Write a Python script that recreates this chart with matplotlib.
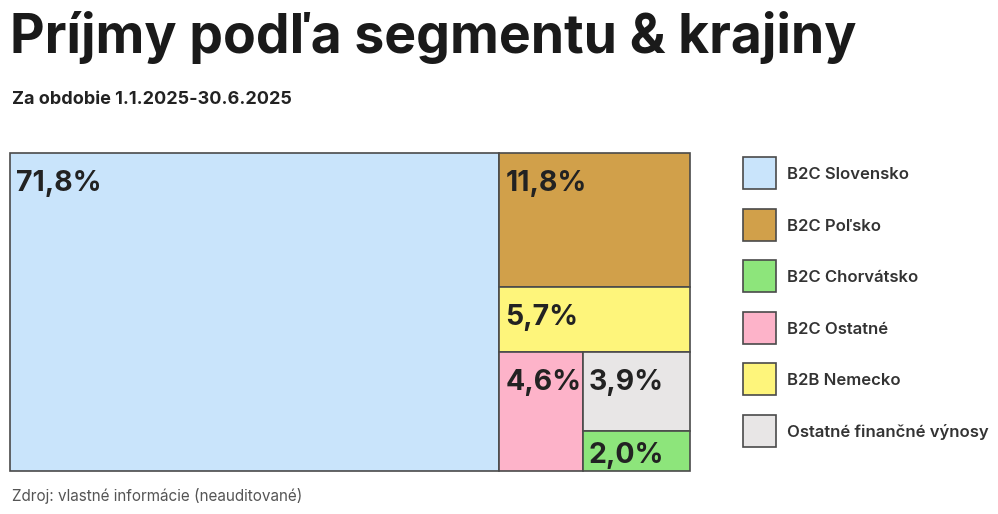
import matplotlib.pyplot as plt
from matplotlib.patches import Rectangle

plt.rcParams['font.family'] = ['Inter', 'DejaVu Sans']

# dáta
segmenty = ['B2C Slovensko', 'B2C Poľsko', 'B2C Chorvátsko', 'B2C Ostatné',
            'B2B Nemecko', 'Ostatné finančné výnosy']
podiel = [71.8, 11.8, 2.0, 4.6, 5.7, 3.9]
farby = ['#c9e4fb', '#d1a04a', '#8de57b', '#fdb3c9', '#fef57b', '#e8e6e6']
popisky = ['71,8%', '11,8%', '2,0%', '4,6%', '5,7%', '3,9%']

# poradie delenia treemapy: (smer, index, zvysok)
# 'v' = odrez zlava, 'h' = odrez zhora
strom = ('v', 0, ('h', 1, ('h', 4, ('v', 3, ('h', 5, ('leaf', 2))))))


def suma(uzol):
    if uzol[0] == 'leaf':
        return podiel[uzol[1]]
    return podiel[uzol[1]] + suma(uzol[2])


def rozloz(uzol, x, y, w, h, out):
    if uzol[0] == 'leaf':
        out[uzol[1]] = (x, y, w, h)
        return
    smer, i, zvysok = uzol
    f = podiel[i] / suma(uzol)
    if smer == 'v':
        out[i] = (x, y, w * f, h)
        rozloz(zvysok, x + w * f, y, w * (1 - f), h, out)
    else:
        out[i] = (x, y, w, h * f)
        rozloz(zvysok, x, y + h * f, w, h * (1 - f), out)


fig = plt.figure(figsize=(9.98, 5.14), dpi=100)
ax = fig.add_axes([0, 0, 1, 1])
ax.set_xlim(0, 998)
ax.set_ylim(514, 0)
ax.axis('off')

obdlzniky = {}
rozloz(strom, 10, 153, 680, 318, obdlzniky)

for i, (x, y, w, h) in obdlzniky.items():
    ax.add_patch(Rectangle((x, y), w, h, facecolor=farby[i], edgecolor='#4a4a4a', lw=1.2))
    ax.text(x + 6, y + min(38, h - 8), popisky[i], fontsize=20.5, fontweight='bold',
            color='#222222', va='baseline', ha='left')

# legenda
for k, i in enumerate([0, 1, 2, 3, 4, 5]):
    yc = 173 + k * 51.6
    ax.add_patch(Rectangle((743, yc - 16), 33, 32, facecolor=farby[i], edgecolor='#4a4a4a', lw=1.2))
    ax.text(787, yc + 6, segmenty[i], fontsize=12, fontweight='semibold', color='#333333',
            va='baseline', ha='left')

ax.text(10, 53, 'Príjmy podľa segmentu & krajiny', fontsize=38.5, fontweight='bold',
        color='#1a1a1a', va='baseline', ha='left')
ax.text(12, 104, 'Za obdobie 1.1.2025-30.6.2025', fontsize=13, fontweight='bold',
        color='#222222', va='baseline', ha='left')
ax.text(12, 501, 'Zdroj: vlastné informácie (neauditované)', fontsize=11,
        color='#555555', va='baseline', ha='left')

fig.savefig('out.png', dpi=100)
